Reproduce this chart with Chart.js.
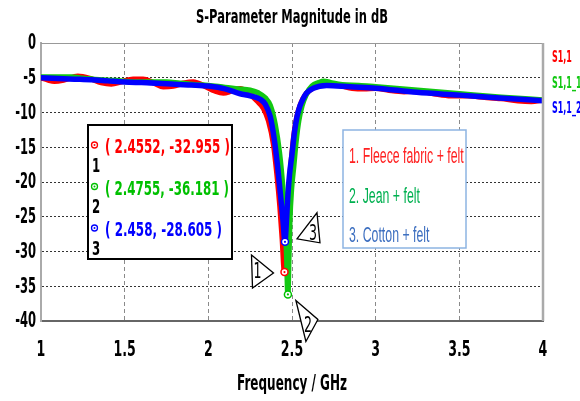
<!DOCTYPE html>
<html>
<head>
<meta charset="utf-8">
<script src="https://cdn.jsdelivr.net/npm/chart.js@4.4.0/dist/chart.umd.min.js"></script>
<style>
    html, body { margin: 0; padding: 0; background: #ffffff; }
    #wrap { width: 580px; height: 401px; }
</style>
</head>
<body>
<div id="wrap"><canvas id="sparam" width="580" height="401"></canvas></div>
<script>
    var FONT = '"DejaVu Sans", Verdana, sans-serif';
    var NOTE_FONT = '"Liberation Sans", Arial, sans-serif';

    /**
     * Data
     */
    var seriesLabels = ["S1,1", "S1,1_1", "S1,1_2"];
    var materialNames = ["1. Fleece fabric + felt", "2. Jean + felt", "3. Cotton + felt"];

    // 1. Fleece fabric + felt (S1,1)
    var freqFleece = [1.00, 1.04, 1.08, 1.14, 1.22, 1.29, 1.36, 1.42, 1.48, 1.55, 1.61, 1.67, 1.73, 1.79, 1.85, 1.91, 1.97,
        2.04, 2.09, 2.14, 2.19, 2.24, 2.29, 2.33, 2.36, 2.39, 2.41, 2.428, 2.442, 2.4552, 2.463, 2.47, 2.48, 2.495, 2.512,
        2.53, 2.55, 2.585, 2.625, 2.70, 2.78, 2.86, 2.93, 3.00, 3.08, 3.17, 3.26, 3.35, 3.45, 3.55, 3.65, 3.75, 3.85, 3.93, 4.00];
    var s11Fleece = [-5.0, -5.3, -5.5, -5.3, -4.8, -5.1, -5.7, -5.9, -5.6, -5.2, -5.2, -5.7, -6.3, -6.2, -5.8, -5.6, -6.1,
        -6.9, -7.2, -6.9, -6.6, -7.2, -8.3, -9.4, -11.2, -14.6, -18.8, -23.5, -28.2, -32.955, -29.5, -25.6, -21.5, -17.2, -13.2,
        -10.6, -8.9, -7.3, -6.5, -6.0, -6.1, -6.5, -6.6, -6.5, -6.8, -7.0, -6.9, -7.3, -7.6, -7.6, -7.8, -8.0, -8.3, -8.4, -8.2];

    // 2. Jean + felt (S1,1_1)
    var freqJean = [1.00, 1.10, 1.18, 1.26, 1.35, 1.45, 1.55, 1.65, 1.75, 1.83, 1.92, 2.00, 2.10, 2.18, 2.25, 2.30, 2.34,
        2.37, 2.40, 2.425, 2.445, 2.46, 2.468, 2.4755, 2.481, 2.487, 2.497, 2.51, 2.524, 2.54, 2.56, 2.585, 2.62, 2.66, 2.69,
        2.73, 2.80, 2.90, 3.00, 3.25, 3.50, 3.75, 4.00];
    var s11Jean = [-4.9, -4.9, -4.9, -5.1, -5.3, -5.4, -5.6, -5.6, -5.6, -5.8, -6.0, -6.1, -6.4, -6.6, -6.8, -7.2, -7.9,
        -9.0, -11.8, -15.8, -20.8, -26.0, -30.5, -36.181, -31.0, -25.5, -21.0, -17.8, -14.2, -11.2, -9.0, -7.4, -6.2, -5.7, -5.5,
        -5.7, -6.0, -6.1, -6.3, -6.8, -7.3, -7.8, -8.2];

    // 3. Cotton + felt (S1,1_2)
    var freqCotton = [1.00, 1.10, 1.20, 1.30, 1.40, 1.50, 1.60, 1.70, 1.80, 1.90, 2.00, 2.10, 2.19, 2.25, 2.31, 2.34, 2.37,
        2.395, 2.415, 2.432, 2.446, 2.458, 2.466, 2.474, 2.485, 2.50, 2.515, 2.53, 2.547, 2.567, 2.587, 2.627, 2.707, 2.846,
        3.00, 3.245, 3.50, 3.74, 4.00];
    var s11Cotton = [-5.0, -5.1, -5.2, -5.3, -5.45, -5.6, -5.7, -5.8, -5.95, -6.05, -6.2, -6.6, -7.3, -7.6, -8.1, -8.8, -10.6,
        -14.0, -18.0, -22.0, -25.5, -28.605, -26.0, -22.5, -19.0, -16.0, -12.8, -10.6, -9.1, -8.0, -7.2, -6.5, -6.1, -6.3,
        -6.5, -7.1, -7.5, -7.9, -8.3];

    // markers 1, 2, 3 (frequency GHz, magnitude dB)
    var markerFreq = [2.4552, 2.4755, 2.458];
    var markerDb = [-32.955, -36.181, -28.605];

    var xTicks = [1, 1.5, 2, 2.5, 3, 3.5, 4];
    var yTicks = [0, -5, -10, -15, -20, -25, -30, -35, -40];

    var lineColors = ["#ff0000", "#12c812", "#0000ff"];
    var textColors = ["#ff0000", "#00c000", "#0000ff"];
    var noteColors = ["#ff2020", "#00b050", "#3d6fc0"];

    function toPoints(xs, ys) {
        return xs.map(function (x, i) { return {x: x, y: ys[i]}; });
    }

    // draw text squeezed horizontally by sx
    function squish(ctx, text, x, y, sx) {
        ctx.save();
        ctx.translate(x, y);
        ctx.scale(sx, 1);
        ctx.fillText(text, 0, 0);
        ctx.restore();
    }

    function markerIcon(ctx, x, y, color, r) {
        ctx.beginPath();
        ctx.arc(x, y, r, 0, Math.PI * 2);
        ctx.fillStyle = '#ffffff';
        ctx.fill();
        ctx.lineWidth = 1.3;
        ctx.strokeStyle = color;
        ctx.stroke();
        ctx.beginPath();
        ctx.arc(x, y, 1, 0, Math.PI * 2);
        ctx.fillStyle = color;
        ctx.fill();
    }

    // triangle flags next to each marker, offsets from the marker pixel
    var flags = [
        {pts: [[-33, -17], [-11, 1], [-32, 16]], num: [-27, 1]},
        {pts: [[8, 6], [30, 25], [18, 47]], num: [20, 32]},
        {pts: [[12, -3], [32, -29], [35, 1]], num: [28, -7]}
    ];
    var rowWidths = [125, 124, 117];

    var decor = {
        id: 'decor',
        afterDatasetsDraw: function (chart) {
            var ctx = chart.ctx;
            ctx.save();
            chart.data.datasets.forEach(function (ds, i) {
                if (!ds.isMarker) return;
                var pt = chart.getDatasetMeta(i).data[0];
                ctx.beginPath();
                ctx.arc(pt.x, pt.y, 1.1, 0, Math.PI * 2);
                ctx.fillStyle = ds.pointBorderColor;
                ctx.fill();
            });
            ctx.restore();
        },
        afterDraw: function (chart) {
            var ctx = chart.ctx, a = chart.chartArea;
            var xs = chart.scales.x, ys = chart.scales.y;
            ctx.save();

            // frame: top and right edges
            ctx.strokeStyle = '#999999';
            ctx.lineWidth = 1;
            ctx.beginPath();
            ctx.moveTo(a.left, a.top + 0.5);
            ctx.lineTo(a.right, a.top + 0.5);
            ctx.stroke();
            ctx.strokeStyle = '#aaaaaa';
            ctx.lineWidth = 2.5;
            ctx.beginPath();
            ctx.moveTo(a.right, a.top);
            ctx.lineTo(a.right, a.bottom);
            ctx.stroke();

            // tick labels
            ctx.fillStyle = '#000000';
            ctx.font = 'bold 21px ' + FONT;
            ctx.textBaseline = 'middle';
            ctx.textAlign = 'center';
            xTicks.forEach(function (v) {
                squish(ctx, String(v), xs.getPixelForValue(v), 351, 0.6);
            });
            ctx.textAlign = 'right';
            yTicks.forEach(function (v) {
                squish(ctx, String(v), 36, ys.getPixelForValue(v) + 1, 0.55);
            });

            // titles
            ctx.textAlign = 'center';
            ctx.font = 'bold 20px ' + FONT;
            ctx.fillText('S-Parameter Magnitude in dB', (a.left + a.right) / 2, 18, 192);
            ctx.font = 'bold 21px ' + FONT;
            ctx.fillText('Frequency / GHz', (a.left + a.right) / 2, 385, 110);

            // series names on the right
            ctx.textAlign = 'left';
            ctx.font = 'bold 16px ' + FONT;
            seriesLabels.forEach(function (s, i) {
                ctx.fillStyle = lineColors[i];
                squish(ctx, s, 552, 58 + i * 25.5, 0.5);
            });

            // marker readout box
            ctx.fillStyle = '#ffffff';
            ctx.fillRect(88, 125, 144, 134);
            ctx.strokeStyle = '#000000';
            ctx.lineWidth = 2;
            ctx.strokeRect(88, 125, 144, 134);
            markerFreq.forEach(function (f, i) {
                var rowY = 148 + i * 41.5;
                markerIcon(ctx, 94.5, rowY - 3, textColors[i], 3);
                ctx.fillStyle = '#000000';
                ctx.font = 'bold 19px ' + FONT;
                ctx.textAlign = 'left';
                squish(ctx, String(i + 1), 92, rowY + 19, 0.62);
                ctx.fillStyle = textColors[i];
                ctx.font = 'bold 20px ' + FONT;
                ctx.fillText('( ' + f + ', ' + markerDb[i] + ' )', 105, rowY, rowWidths[i]);
            });

            // description box
            ctx.fillStyle = '#ffffff';
            ctx.fillRect(343, 130, 123, 118);
            ctx.strokeStyle = '#8db4e2';
            ctx.lineWidth = 1.5;
            ctx.strokeRect(343, 130, 123, 118);
            ctx.font = '22px ' + NOTE_FONT;
            materialNames.forEach(function (n, i) {
                ctx.fillStyle = noteColors[i];
                squish(ctx, n, 349, 157 + i * 39.5, 0.56);
            });

            // triangle flags
            markerFreq.forEach(function (f, i) {
                var px = xs.getPixelForValue(f), py = ys.getPixelForValue(markerDb[i]);
                var fl = flags[i];
                ctx.beginPath();
                fl.pts.forEach(function (p, k) {
                    if (k === 0) ctx.moveTo(px + p[0], py + p[1]);
                    else ctx.lineTo(px + p[0], py + p[1]);
                });
                ctx.closePath();
                ctx.fillStyle = '#ffffff';
                ctx.fill();
                ctx.strokeStyle = '#000000';
                ctx.lineWidth = 1.3;
                ctx.stroke();
                ctx.fillStyle = '#000000';
                ctx.font = '21px ' + FONT;
                ctx.textAlign = 'center';
                squish(ctx, String(i + 1), px + fl.num[0], py + fl.num[1], 0.6);
            });
            ctx.restore();
        }
    };

    var curves = [
        {label: seriesLabels[0], xs: freqFleece, ys: s11Fleece, order: 3},
        {label: seriesLabels[1], xs: freqJean, ys: s11Jean, order: 2},
        {label: seriesLabels[2], xs: freqCotton, ys: s11Cotton, order: 1}
    ];

    var datasets = curves.map(function (c, i) {
        return {
            label: c.label,
            data: toPoints(c.xs, c.ys),
            borderColor: lineColors[i],
            backgroundColor: lineColors[i],
            borderWidth: 5.5,
            pointRadius: 0,
            cubicInterpolationMode: 'monotone',
            fill: false,
            order: c.order
        };
    });

    markerFreq.forEach(function (f, i) {
        datasets.push({
            label: 'Marker ' + (i + 1),
            isMarker: true,
            data: [{x: f, y: markerDb[i]}],
            showLine: false,
            pointRadius: 3.5,
            pointBorderWidth: 1.5,
            pointBackgroundColor: '#ffffff',
            pointBorderColor: textColors[i],
            order: 0
        });
    });

    var options = {
        responsive: false,
        animation: false,
        devicePixelRatio: 1,
        layout: {padding: {top: 43, right: 37, left: 0, bottom: 0}},
        plugins: {
            legend: {display: false},
            tooltip: {enabled: false},
            title: {display: false}
        },
        scales: {
            x: {
                type: 'linear',
                min: 1,
                max: 4,
                afterBuildTicks: function (scale) {
                    scale.ticks = xTicks.map(function (v) { return {value: v}; });
                },
                afterFit: function (scale) { scale.height = 80; },
                grid: {
                    drawTicks: false,
                    lineWidth: 1,
                    color: function (c) {
                        var v = c.tick ? c.tick.value : null;
                        return (v === 1 || v === 4) ? 'rgba(0,0,0,0)' : '#8a8a8a';
                    }
                },
                border: {display: true, color: '#666666', width: 2, dash: [4, 3]},
                ticks: {display: false}
            },
            y: {
                type: 'linear',
                min: -40,
                max: 0,
                afterBuildTicks: function (scale) {
                    scale.ticks = yTicks.map(function (v) { return {value: v}; });
                },
                afterFit: function (scale) { scale.width = 41; },
                grid: {
                    drawTicks: false,
                    lineWidth: 1,
                    color: function (c) {
                        var v = c.tick ? c.tick.value : null;
                        return (v === 0 || v === -40) ? 'rgba(0,0,0,0)' : '#333333';
                    }
                },
                border: {display: true, color: '#aaaaaa', width: 2, dash: [2, 2]},
                ticks: {display: false}
            }
        }
    };

    var ctx = document.getElementById("sparam").getContext("2d");
    new Chart(ctx, {type: 'line', data: {datasets: datasets}, options: options, plugins: [decor]});
</script>
</body>
</html>
